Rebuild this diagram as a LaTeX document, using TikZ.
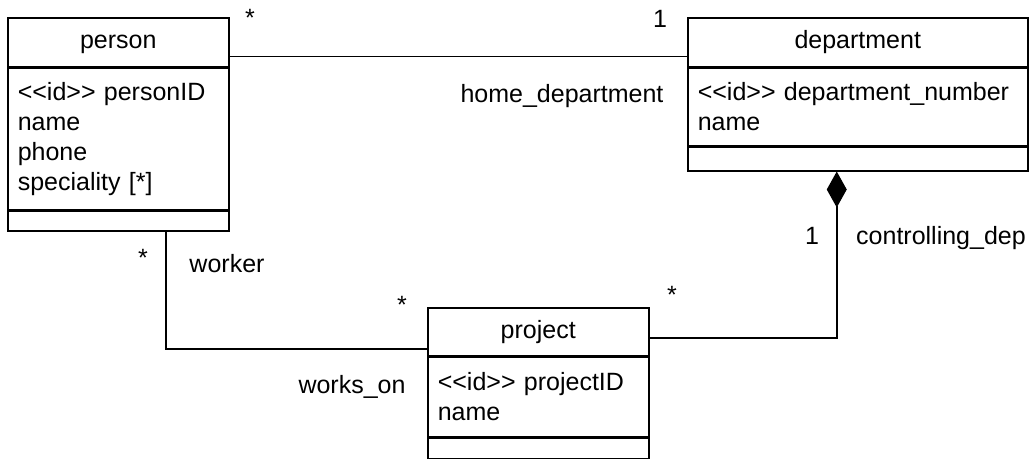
\documentclass[tikz,border=0pt]{standalone}
\usepackage{fontspec}
\setmainfont{Liberation Sans}
\usetikzlibrary{positioning,arrows.meta}
\newcommand\umlfont{\fontsize{25}{30}\selectfont}
\newcommand\stereo[1]{<\kern0pt<#1>\kern0pt>}
\tikzset{
  classname/.style={draw=black,line width=1.5pt,inner sep=0pt,minimum height=49pt,text height=18pt,text depth=5pt,font=\umlfont},
  classattr/.style={draw=black,line width=1.5pt,inner xsep=10pt,inner ysep=0pt,align=left,font=\umlfont},
  mult/.style={font=\umlfont,inner sep=0pt},
  assoc/.style={line width=1.5pt},
}

\begin{document}
\begin{tikzpicture}[x=1pt,y=-1pt]
\useasboundingbox (0,0) rectangle (1032,458);
% classes
\node[classname,minimum width=221pt,anchor=north west] (person) at (7,17) {person};
\node[classattr,text width=201pt,minimum height=141pt,below=0pt of person] (personattr) {\stereo{id} personID\\name\\phone\\speciality [*]};
\node[classattr,text width=201pt,minimum height=20pt,below=0pt of personattr] (personops) {};

\node[classname,minimum width=340pt,anchor=north west] (department) at (687,17) {department};
\node[classattr,text width=320pt,minimum height=77pt,below=0pt of department] (departmentattr) {\stereo{id} department\_number\\name};
\node[classattr,text width=320pt,minimum height=24pt,below=0pt of departmentattr] (departmentops) {};

\node[classname,minimum width=221pt,minimum height=48pt,anchor=north west] (project) at (427,307) {project};
\node[classattr,text width=201pt,minimum height=79pt,below=0pt of project] (projectattr) {\stereo{id} projectID\\name};
\node[classattr,text width=201pt,minimum height=21pt,below=0pt of projectattr] (projectops) {};

% associations
\draw[assoc] ([yshift=-14pt]person.east) -- ([yshift=-14pt]department.west);
\draw[assoc] ([xshift=47.5pt]personops.south) |- ([yshift=-17pt]project.west);
\draw[assoc,{Diamond[length=36pt,width=20pt]}-] ([xshift=-21pt]departmentops.south) |- ([yshift=-6pt]project.east);

% ends
\node[mult] (personstar) at (250,18) {*};
\node[mult,anchor=base] (deptone) at (660,27) {1};
\node[mult,anchor=base] (homedept) at (562,102) {home\_department};
\node[mult] (workerstar) at (143,258) {*};
\node[mult,anchor=base] (worker) at (227,272) {worker};
\node[mult] (projectstar) at (402,305) {*};
\node[mult,anchor=base] (workson) at (352,393) {works\_on};
\node[mult] (ctrlstar) at (672,295) {*};
\node[mult,anchor=base] (ctrlone) at (812,244) {1};
\node[mult,anchor=base west] (ctrl) at (856,244) {controlling\_dep};
\end{tikzpicture}
\end{document}
